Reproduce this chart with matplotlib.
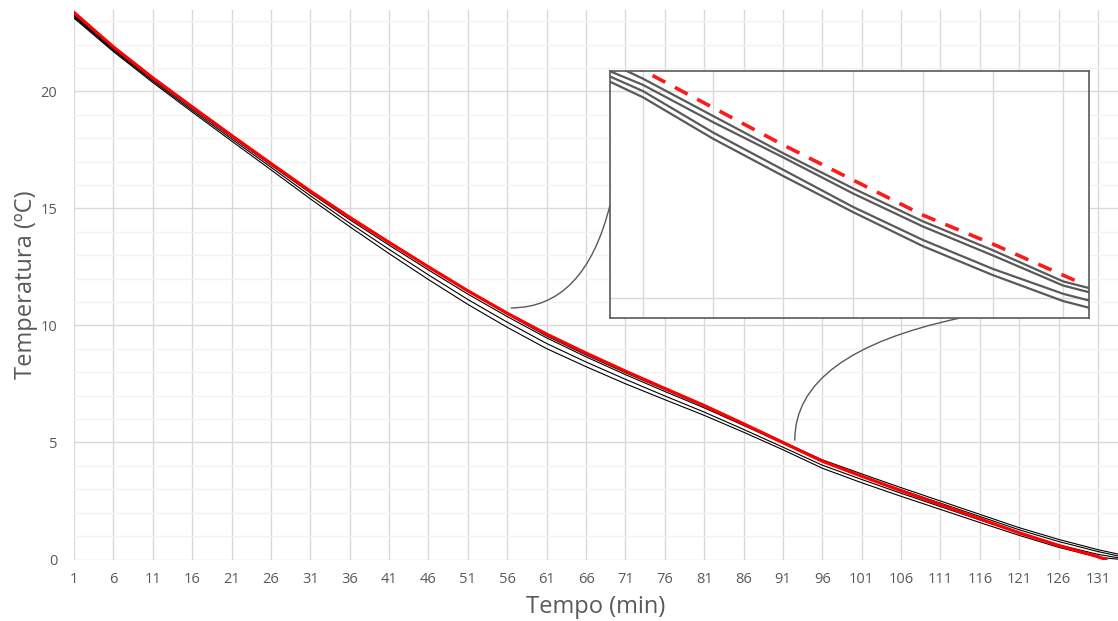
import matplotlib
matplotlib.use('AGG')
import matplotlib.pyplot as plt
from matplotlib.ticker import MultipleLocator

plt.rcParams['font.family'] = ['Open Sans', 'DejaVu Sans']

# main chart data, read every 5 minutes
minutes = [1, 6, 11, 16, 21, 26, 31, 36, 41, 46, 51, 56, 61, 66, 71, 76, 81, 86, 91, 96,
           101, 106, 111, 116, 121, 126, 131]
red_minutes = minutes + [132]
black_minutes = minutes + [134]

red_temp = [23.37, 21.90, 20.58, 19.34, 18.12, 16.92, 15.74, 14.62, 13.55, 12.50, 11.48,
            10.52, 9.63, 8.82, 8.05, 7.31, 6.58, 5.80, 5.00, 4.20, 3.56, 2.94, 2.34, 1.74,
            1.14, 0.60, 0.12, 0.0]
black_a = [23.27, 21.85, 20.55, 19.32, 18.12, 16.92, 15.74, 14.62, 13.55, 12.50, 11.46,
           10.48, 9.55, 8.74, 7.98, 7.26, 6.55, 5.80, 5.03, 4.26, 3.66, 3.07, 2.50, 1.93,
           1.36, 0.86, 0.42, 0.20]
black_b = [23.22, 21.80, 20.50, 19.26, 18.05, 16.85, 15.66, 14.52, 13.43, 12.37, 11.34,
           10.38, 9.47, 8.66, 7.90, 7.18, 6.48, 5.73, 4.96, 4.18, 3.57, 2.98, 2.41, 1.84,
           1.27, 0.77, 0.34, 0.12]
black_c = [23.18, 21.75, 20.44, 19.19, 17.97, 16.76, 15.54, 14.37, 13.25, 12.16, 11.11,
           10.14, 9.23, 8.44, 7.70, 6.99, 6.30, 5.56, 4.80, 4.03, 3.42, 2.83, 2.26, 1.69,
           1.13, 0.63, 0.22, 0.05]
black_d = [23.13, 21.70, 20.38, 19.12, 17.88, 16.65, 15.41, 14.22, 13.07, 11.96, 10.90,
           9.92, 9.01, 8.24, 7.51, 6.83, 6.16, 5.44, 4.69, 3.90, 3.28, 2.70, 2.14, 1.58,
           1.03, 0.52, 0.10, 0.00]

# zoomed inset data
inset_minutes = [61.5, 62, 63, 64, 65, 66, 67, 68, 68.4]
inset_red_minutes = [61.5, 62, 63, 64, 65, 66, 67, 68, 68.2]
inset_red = [9.19, 9.10, 8.92, 8.74, 8.57, 8.40, 8.26, 8.11, 8.08]
inset_gray1 = [9.14, 9.06, 8.88, 8.70, 8.53, 8.37, 8.23, 8.08, 8.045]
inset_gray2 = [9.10, 9.03, 8.85, 8.68, 8.505, 8.345, 8.205, 8.06, 8.025]
inset_gray3 = [9.075, 9.00, 8.80, 8.62, 8.44, 8.28, 8.14, 8.02, 7.985]
inset_gray4 = [9.05, 8.97, 8.77, 8.59, 8.415, 8.25, 8.11, 7.985, 7.95]

text_color = '#595959'
grid_major = '#d9d9d9'
grid_minor = '#f2f2f2'

fig = plt.figure(figsize=(11.18, 6.21), dpi=100)
ax = fig.add_axes([0.0662, 0.099, 0.9338, 0.885])

for serie in [black_a, black_b, black_c, black_d]:
  ax.plot(black_minutes, serie, color='black', lw=0.8, zorder=3)
ax.plot(red_minutes, red_temp, color='#ff0000', lw=2.3, zorder=4)

ax.set_xlim(1, 133.54)
ax.set_ylim(0, 23.48)
ax.set_xticks(minutes)
ax.set_yticks([0, 5, 10, 15, 20])
ax.yaxis.set_minor_locator(MultipleLocator(1))
ax.grid(which='major', color=grid_major, lw=1, zorder=0)
ax.grid(which='minor', axis='y', color=grid_minor, lw=1, zorder=0)
ax.set_axisbelow(True)
for s in ax.spines.values():
  s.set_visible(False)
ax.tick_params(axis='both', which='both', length=0, labelsize=10.5, labelcolor=text_color)
ax.tick_params(axis='x', pad=9)
ax.tick_params(axis='y', pad=12)
ax.set_xlabel('Tempo (min)', fontsize=17, color=text_color, labelpad=6)
ax.set_ylabel('Temperatura (ºC)', fontsize=17, color=text_color, labelpad=2)

# inset with magnified view
ins = fig.add_axes([610/1118, 1 - 318/621, 479/1118, 247/621], zorder=5)
for serie in [inset_gray1, inset_gray2, inset_gray3, inset_gray4]:
  ins.plot(inset_minutes, serie, color='#595959', lw=1.6)
ins.plot(inset_red_minutes, inset_red, color='#ff1a1a', lw=2.6, dashes=(4, 3))
ins.set_xlim(61.53, 68.37)
ins.set_ylim(7.903, 9.097)
ins.set_xticks(range(62, 69))
ins.set_yticks([8, 9])
ins.grid(color=grid_major, lw=1)
ins.tick_params(length=0, labelbottom=False, labelleft=False)
for s in ins.spines.values():
  s.set_color('#595959')
  s.set_linewidth(1.2)

# callout lines from the curve to the inset
ax.annotate('', xy=(56.5, 10.75), xycoords='data', xytext=(0, 0.457), textcoords=ins.transAxes,
            arrowprops=dict(arrowstyle='-', color='#595959', lw=1, shrinkA=0, shrinkB=0,
                            connectionstyle='angle3,angleA=76,angleB=0'))
ax.annotate('', xy=(92.5, 5.1), xycoords='data', xytext=(0.731, 0), textcoords=ins.transAxes,
            arrowprops=dict(arrowstyle='-', color='#595959', lw=1, shrinkA=0, shrinkB=0,
                            connectionstyle='angle3,angleA=12,angleB=90'))

plt.savefig('out.png', dpi=100)
plt.close()
